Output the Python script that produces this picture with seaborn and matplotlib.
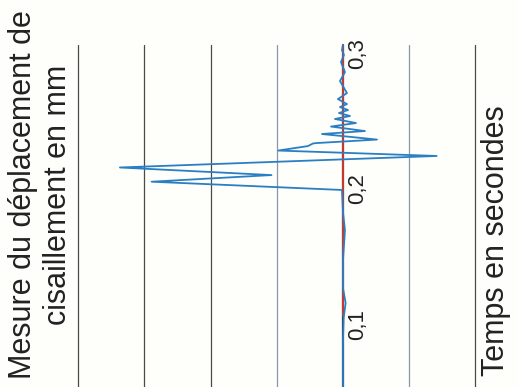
import numpy as np
import pandas as pd
import matplotlib
matplotlib.use('Agg')
import matplotlib.pyplot as plt
import seaborn as sns

# shear displacement trace (mm) against time (s), chart is drawn turned 90 degrees
time_s = [0.0539, 0.0886, 0.1048, 0.1159, 0.1269, 0.1476, 0.1697, 0.1830, 0.1993,
          0.2054, 0.2103, 0.2159, 0.2244, 0.2284, 0.2317, 0.2336, 0.2339, 0.2365,
          0.2406, 0.2428, 0.2461, 0.2487, 0.2517, 0.2539, 0.2561, 0.2583, 0.2605,
          0.2627, 0.2664, 0.2708, 0.2797, 0.2863, 0.2937, 0.2989, 0.3026, 0.3063]
disp_mm = [0.0, 0.0, 0.01, 0.04, 0.0, 0.0, 0.03, 0.0, -0.015,
           -2.89, -1.08, -3.37, 1.415, -0.977, -0.529, -0.453, -0.408, 0.514,
           -0.317, 0.332, -0.181, 0.196, -0.121, 0.106, -0.06, 0.076, -0.045,
           0.06, -0.076, 0.06, -0.045, 0.03, -0.03, 0.015, -0.015, 0.0]

ref_time = [0.106, 0.3063]
ref_disp = [0.0, 0.0]

time_ticks = [0.1, 0.2, 0.3]
time_tick_labels = ['0,1', '0,2', '0,3']
grid_disp = [-4, -3, -2, -1, 1, 2]

sns.set_theme(style='white')
plt.rcParams['font.family'] = ['Liberation Sans', 'DejaVu Sans']

fig = plt.figure(figsize=(5.18, 3.87), dpi=100, facecolor='#fefefb')
ax = fig.add_axes([0, 0, 1, 1])
ax.set_facecolor('#fefefb')
ax.set_xlim(-5.181, 2.644)
ax.set_ylim(0.0539, 0.3395)
ax.axis('off')

t_top = 0.3066
for g in grid_disp:
    col = '#8c96a6' if abs(g) == 1 else '#4a4a4a'
    ax.plot([g, g], [0.0539, t_top], color=col, lw=0.9, zorder=1)
ax.plot([0, 0], [0.0539, t_top], color='#333333', lw=1.6, zorder=2)

sns.lineplot(x=ref_disp, y=ref_time, sort=False, estimator=None,
             color='#e23b30', lw=1.2, ax=ax, zorder=3)
df = pd.DataFrame({'t': time_s, 'd': disp_mm})
sns.lineplot(data=df, x='d', y='t', sort=False, estimator=None,
             color='#2a7fc4', lw=1.3, ax=ax, zorder=4)

for t, lab in zip(time_ticks, time_tick_labels):
    ax.text(0.07, t, lab, rotation=90, ha='left', va='center', fontsize=16, color='#222222')

fig.text(0.079, 0.496, 'Mesure du déplacement de\ncisaillement en mm', rotation=90,
         ha='center', va='center', fontsize=22, linespacing=1.22, color='#222222')
fig.text(0.958, 0.377, 'Temps en secondes', rotation=90,
         ha='center', va='center', fontsize=22, color='#222222')

fig.savefig('out.png', dpi=100, facecolor=fig.get_facecolor())
